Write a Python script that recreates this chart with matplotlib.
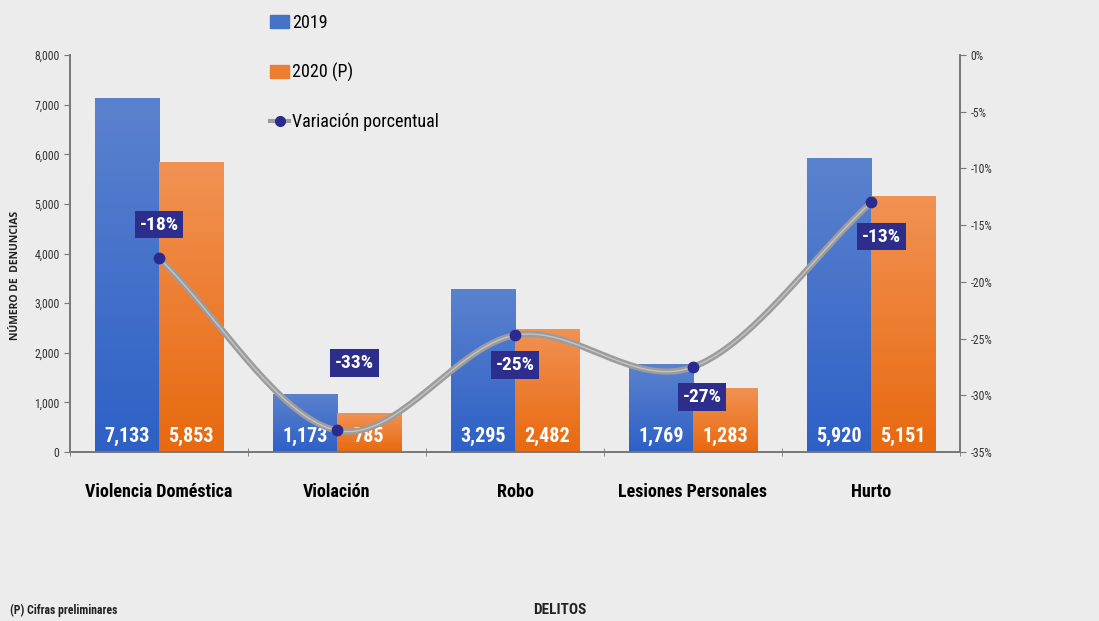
import numpy as np
import matplotlib
matplotlib.use("Agg")
import matplotlib.pyplot as plt
from matplotlib.lines import Line2D
from matplotlib.patches import Patch
from matplotlib.ticker import FuncFormatter
from matplotlib import font_manager as fm
from matplotlib.colors import LinearSegmentedColormap

categories = ["Violencia Doméstica", "Violación", "Robo", "Lesiones Personales", "Hurto"]
v2019 = [7133, 1173, 3295, 1769, 5920]
v2020 = [5853, 785, 2482, 1283, 5151]
variacion = [-17.9, -33.1, -24.7, -27.5, -13.0]
var_labels = ["-18%", "-33%", "-25%", "-27%", "-13%"]

names = {f.name for f in fm.fontManager.ttflist}
FAM = "DejaVu Sans"
STRETCH = "condensed"
for cand in ["Liberation Sans Narrow", "Roboto Condensed", "Open Sans Condensed"]:
    if cand in names:
        FAM = cand
        STRETCH = "normal"
        break
plt.rcParams['font.family'] = [FAM, 'DejaVu Sans']
plt.rcParams['font.stretch'] = STRETCH

BG = "#ECECEC"
fig = plt.figure(figsize=(10.99, 6.21), dpi=100, facecolor=BG)
ax = fig.add_axes([0.0637, 0.2721, 0.8098, 0.6393])
ax.set_facecolor("none")
ax2 = ax.twinx()

x = np.arange(len(categories))
w = 0.36
ax.set_xlim(-0.5, len(categories) - 0.5)
ax.set_ylim(0, 8000)

cm_blue = LinearSegmentedColormap.from_list("b", ["#2E60C6", "#5B82CE"])
cm_orng = LinearSegmentedColormap.from_list("o", ["#E8690F", "#F19253"])
grad = np.linspace(0, 1, 256).reshape(-1, 1)

def gbar(xc, h, cmap):
    bars = ax.bar(xc, h, w, color="none", zorder=2)
    for r in bars:
        x0, y0 = r.get_x(), r.get_y()
        im = ax.imshow(grad, cmap=cmap, origin="lower", aspect="auto",
                       extent=[x0, x0 + r.get_width(), y0, y0 + r.get_height()], zorder=2)
        im.set_clip_path(r)
    return bars

gbar(x - w/2, v2019, cm_blue)
gbar(x + w/2, v2020, cm_orng)
ax.set_xlim(-0.5, len(categories) - 0.5)
ax.set_ylim(0, 8000)

for xi, v in zip(x - w/2, v2019):
    ax.text(xi, 320, f"{v:,}", ha="center", va="center", color="white", fontsize=14.5, fontweight="bold", zorder=5)
for xi, v in zip(x + w/2, v2020):
    ax.text(xi, 320, f"{v:,}", ha="center", va="center", color="white", fontsize=14.5, fontweight="bold", zorder=5)

ax.set_yticks(np.arange(0, 8001, 1000))
ax.yaxis.set_major_formatter(FuncFormatter(lambda v, p: f"{int(v):,}"))
ax.set_xticks(x)
ax.set_xticklabels(categories, fontsize=13, fontweight="bold")
ax.set_xticks(np.arange(-0.5, len(categories), 1.0), minor=True)
ax.tick_params(axis="x", which="major", length=0, pad=22)
ax.tick_params(axis="x", which="minor", length=6, color="#777777", direction="inout")
ax.tick_params(axis="y", labelsize=8.5, length=4, color="#777777", labelcolor="#333333")

def catmull(xs, ys, n=40):
    pts = np.column_stack([xs, ys]).astype(float)
    P = np.vstack([pts[0] - (pts[1] - pts[0]), pts, pts[-1] + (pts[-1] - pts[-2])])
    out = []
    for i in range(1, len(P) - 2):
        p0, p1, p2, p3 = P[i-1], P[i], P[i+1], P[i+2]
        t = np.linspace(0, 1, n)[:, None]
        c = 0.5 * ((2*p1) + (-p0 + p2)*t + (2*p0 - 5*p1 + 4*p2 - p3)*t**2 + (-p0 + 3*p1 - 3*p2 + p3)*t**3)
        out.append(c)
    c = np.vstack(out)
    return c[:, 0], c[:, 1]

sx, sy = catmull(x, variacion)
ax2.plot(sx, sy, color="#9C9C9C", lw=4.5, zorder=3, solid_capstyle="round")
ax2.plot(sx, sy, color="#C4C4C4", lw=1, zorder=3)
ax2.plot(x, variacion, "o", color="#2B2B8F", ms=7.5, zorder=4)
ax2.set_ylim(-35, 0)
ax2.set_yticks(np.arange(-35, 1, 5))
ax2.yaxis.set_major_formatter(FuncFormatter(lambda v, p: f"{int(v)}%"))
ax2.tick_params(axis="y", labelsize=8.5, length=4, color="#777777", labelcolor="#333333")

offsets = [(0, 2.95), (0.1, 5.95), (0, -2.65), (0.05, -2.65), (0.06, -3.0)]
for xi, v, lab, (dx, dy) in zip(x, variacion, var_labels, offsets):
    ax2.text(xi + dx, v + dy, lab, ha="center", va="center", color="white", fontsize=14,
             fontweight="bold", zorder=6,
             bbox=dict(boxstyle="square,pad=0.25", fc="#2D2D8C", ec="none"))

for a in (ax, ax2):
    a.spines["top"].set_visible(False)
    for s in ("left", "right", "bottom"):
        a.spines[s].set_color("#777777")
        a.spines[s].set_linewidth(1.2)

handles = [Patch(color="#4472C4"), Patch(color="#ED7D31"),
           Line2D([0], [0], color="#9C9C9C", lw=3, marker="o", mfc="#2B2B8F", mec="#2B2B8F", ms=7)]
leg = fig.legend(handles, ["2019", "2020 (P)", "Variación porcentual"], loc="upper left",
                 bbox_to_anchor=(0.233, 1.0), frameon=False, fontsize=13, labelspacing=1.72,
                 handlelength=1.1, handletextpad=0.15, borderaxespad=0.35)

fig.text(0.014, 0.557, "NÚMERO DE  DENUNCIAS", rotation=90, ha="center", va="center",
         fontsize=7.5, fontweight="bold", color="#222222", family=["Open Sans", "DejaVu Sans"],
         fontstretch="normal")
fig.text(0.509, 0.017, "DELITOS", ha="center", va="center", fontsize=11, fontweight="bold", color="#222222")
fig.text(0.009, 0.017, "(P) Cifras preliminares", ha="left", va="center", fontsize=8.5, fontweight="bold", color="#222222")

fig.savefig("out.png", dpi=100, facecolor=BG)
